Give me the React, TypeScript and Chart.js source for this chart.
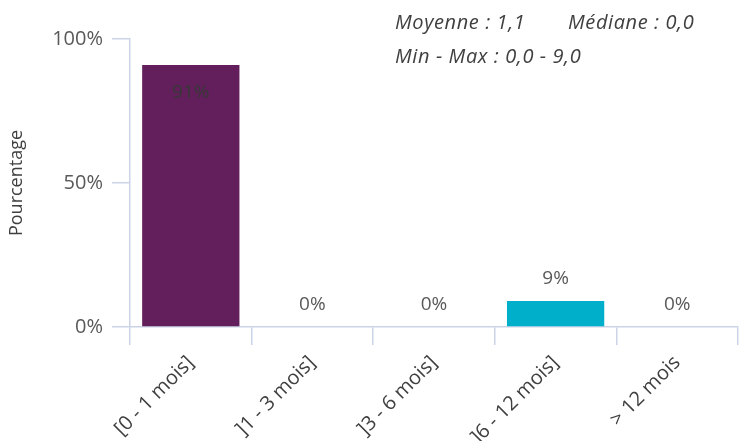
import React, { useEffect, useRef } from "react";
import { Chart, registerables } from "chart.js";

Chart.register(...registerables);

const categories = ["[0 - 1 mois]", "]1 - 3 mois]", "]3 - 6 mois]", "]6 - 12 mois]", "> 12 mois"];
const values = [91, 0, 0, 9, 0];
const barColors = ["#621F5B", "#621F5B", "#621F5B", "#00B0CB", "#00B0CB"];
const yTicks = [0, 50, 100];
const statsLine1a = "Moyenne : 1,1";
const statsLine1b = "Médiane : 0,0";
const statsLine2 = "Min - Max : 0,0 - 9,0";
const yTitle = "Pourcentage";

const FONT = "'Open Sans', 'DejaVu Sans', sans-serif";
const AXIS = "#CBD4E6";

const labelsPlugin = {
  id: "labelsPlugin",
  afterDatasetsDraw(chart: any) {
    const ctx = chart.ctx;
    const meta = chart.getDatasetMeta(0);
    ctx.save();
    ctx.font = `19px ${FONT}`;
    ctx.textAlign = "center";
    ctx.textBaseline = "middle";
    meta.data.forEach((bar: any, i: number) => {
      const v = values[i];
      const txt = `${v}%`;
      if (v > 50) {
        ctx.fillStyle = "#383838";
        ctx.fillText(txt, bar.x, bar.y + 28);
      } else {
        ctx.fillStyle = "#595959";
        ctx.fillText(txt, bar.x, bar.y - 22);
      }
    });
    ctx.font = `italic 20px ${FONT}`;
    ctx.fillStyle = "#404040";
    ctx.textAlign = "left";
    try {
      ctx.letterSpacing = "0.6px";
    } catch (e) {}
    ctx.fillText(statsLine1a, 395, 23);
    ctx.fillText(statsLine1b, 568, 23);
    ctx.fillText(statsLine2, 395, 57);
    ctx.restore();
  },
};

export default function App() {
  const ref = useRef<HTMLCanvasElement>(null);
  useEffect(() => {
    if (!ref.current) return;
    const chart = new Chart(ref.current, {
      type: "bar",
      data: {
        labels: categories,
        datasets: [
          {
            data: values,
            backgroundColor: barColors,
            categoryPercentage: 1,
            barPercentage: 0.8,
          },
        ],
      },
      options: {
        animation: false,
        responsive: false,
        layout: { padding: { top: 39, right: 2, left: 0, bottom: 0 } },
        plugins: { legend: { display: false }, tooltip: { enabled: false } },
        scales: {
          x: {
            offset: true,
            grid: {
              offset: true,
              drawOnChartArea: false,
              drawTicks: true,
              tickLength: 18,
              color: AXIS,
              lineWidth: 1.5,
            },
            border: { color: AXIS, width: 1.5 },
            ticks: {
              color: "#404040",
              font: { family: FONT, size: 20 },
              maxRotation: 45,
              minRotation: 45,
              padding: 6,
              autoSkip: false,
            },
            afterFit: (s: any) => {
              s.height = 114;
            },
          },
          y: {
            min: 0,
            max: 100,
            afterBuildTicks: (s: any) => {
              s.ticks = yTicks.map((v) => ({ value: v }));
            },
            grid: {
              drawOnChartArea: false,
              drawTicks: true,
              tickLength: 18,
              color: AXIS,
              lineWidth: 1.5,
            },
            border: { color: AXIS, width: 1.5 },
            ticks: {
              color: "#595959",
              font: { family: FONT, size: 20 },
              padding: 9,
              callback: (v: any) => `${v}%`,
            },
            title: {
              display: true,
              text: yTitle,
              color: "#404040",
              font: { family: FONT, size: 18 },
              padding: { top: 6, bottom: 14 },
            },
            afterFit: (s: any) => {
              s.width = 130;
            },
          },
        },
      },
      plugins: [labelsPlugin],
    });
    return () => chart.destroy();
  }, []);
  return (
    <div style={{ position: "absolute", left: 0, top: 0, width: 740, height: 441, background: "#fff" }}>
      <canvas ref={ref} width={740} height={441} style={{ display: "block" }} />
    </div>
  );
}
